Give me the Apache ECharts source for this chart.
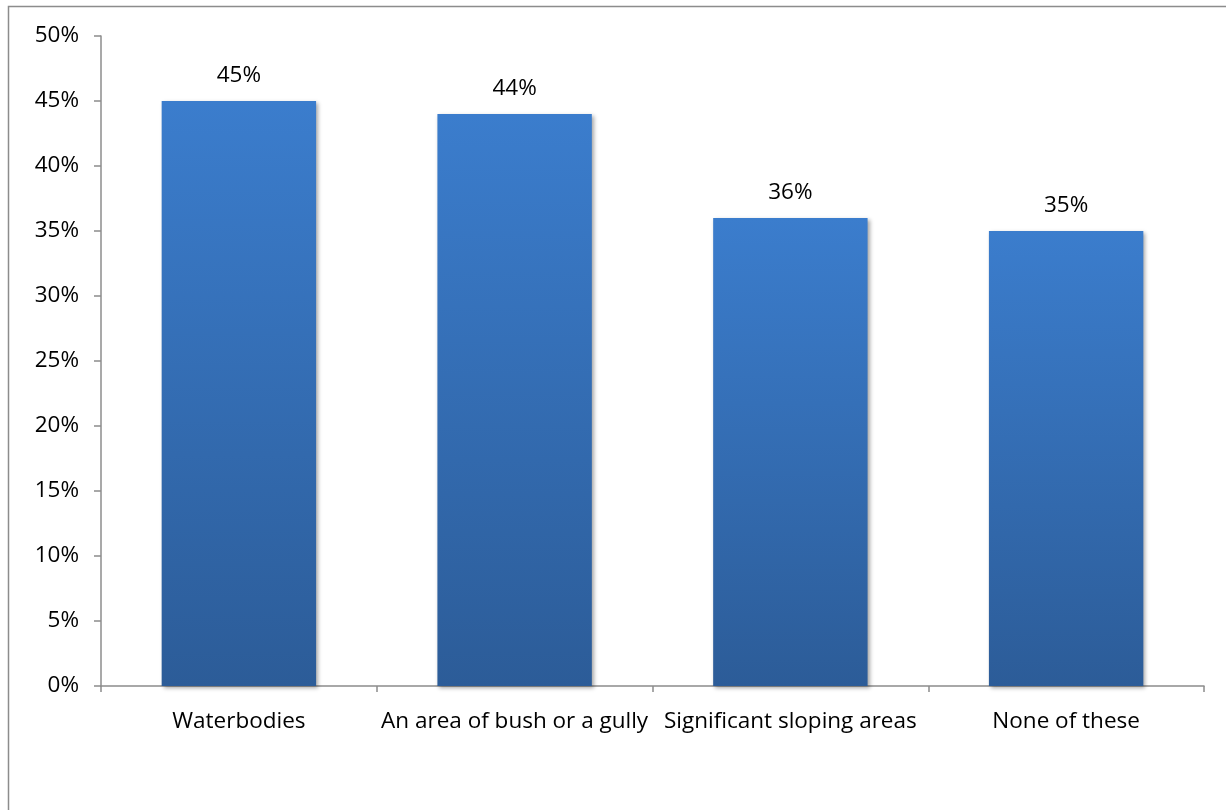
<!DOCTYPE html>
<html>
<head>
<meta charset="utf-8">
<script src="https://cdn.jsdelivr.net/npm/echarts@6/dist/echarts.min.js"></script>
<style>
  html, body { margin: 0; padding: 0; background: #fff; }
  #chart { width: 1226px; height: 810px; }
</style>
</head>
<body>
<div id="chart"></div>
<script>
// Share of respondents by feature near their property
const categories = ['Waterbodies', 'An area of bush or a gully', 'Significant sloping areas', 'None of these'];
const shares = [45, 44, 36, 35];
const yTicks = [0, 5, 10, 15, 20, 25, 30, 35, 40, 45, 50];

const FONT = 'Open Sans';
const chart = echarts.init(document.getElementById('chart'));

chart.setOption({
  animation: false,
  backgroundColor: '#ffffff',
  graphic: [{
    type: 'rect',
    shape: { x: 8.5, y: 6.5, width: 1400, height: 1000 },
    style: { fill: 'none', stroke: '#8c8c8c', lineWidth: 1.5 },
    silent: true,
    z: -10
  }],
  grid: { left: 101, right: 22, top: 36, bottom: 124, containLabel: false },
  xAxis: {
    type: 'category',
    data: categories,
    axisLine: { lineStyle: { color: '#8c8c8c', width: 1.5 } },
    axisTick: { show: true, length: 6, lineStyle: { color: '#8c8c8c', width: 1.5 } },
    axisLabel: { color: '#000', fontFamily: FONT, fontSize: 22.5, margin: 24, interval: 0 },
    splitLine: { show: false }
  },
  yAxis: {
    type: 'value',
    min: yTicks[0],
    max: yTicks[yTicks.length - 1],
    interval: yTicks[1] - yTicks[0],
    axisLine: { show: true, lineStyle: { color: '#8c8c8c', width: 1.5 } },
    axisTick: { show: true, length: 7, lineStyle: { color: '#8c8c8c', width: 1.5 } },
    axisLabel: { color: '#000', fontFamily: FONT, fontSize: 22.5, margin: 22, formatter: v => v + '%' },
    splitLine: { show: false }
  },
  series: [{
    type: 'bar',
    data: shares,
    barWidth: '56%',
    itemStyle: {
      color: new echarts.graphic.LinearGradient(0, 0, 0, 1, [
        { offset: 0, color: '#3b7dcd' },
        { offset: 1, color: '#2c5c98' }
      ]),
      shadowColor: 'rgba(0,0,0,0.35)',
      shadowBlur: 4,
      shadowOffsetX: 2,
      shadowOffsetY: 2
    },
    label: {
      show: true,
      position: 'top',
      distance: 14,
      color: '#000',
      fontFamily: FONT,
      fontSize: 22.5,
      formatter: p => p.value + '%'
    }
  }]
});
</script>
</body>
</html>
